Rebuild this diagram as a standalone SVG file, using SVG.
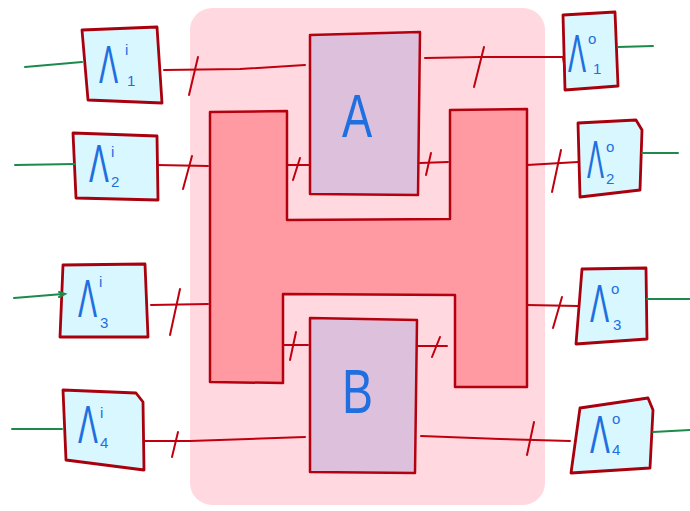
<svg xmlns="http://www.w3.org/2000/svg" width="690" height="511" viewBox="0 0 690 511">
<style>
.bg{fill:#ffd9df;stroke:none}
.h{fill:#ff9aa3;stroke:#b5000f;stroke-width:2.5;stroke-linejoin:round}
.blk{fill:#ddc1dc;stroke:#b5000f;stroke-width:2.5;stroke-linejoin:round}
.lam{fill:#d8f7ff;stroke:#a8000c;stroke-width:2.8;stroke-linejoin:round}
.r{fill:none;stroke:#c0000f;stroke-width:2;stroke-linecap:round}
.g{fill:none;stroke:#1d8a4c;stroke-width:2;stroke-linecap:round}
.t{fill:#1f6fe0;font-family:"Liberation Sans","DejaVu Sans",sans-serif}
.big{font-size:54px}
.sm{font-size:15px}
.lbl{font-size:62px}
</style>
<rect class="bg" x="190" y="8" width="355" height="497" rx="22"/>
<g id="H">
<path class="h" d="M210,112 L287,111 L287,220 L450,219 L450,110 L527,109 L527,387 L455,387 L455,295 L283,294 L283,383 L210,382 Z"/>
</g>
<g id="A">
<path class="blk" d="M310,35 L420,32 L418,195 L310,194 Z"/>
<text class="t lbl" transform="translate(342,137) scale(0.73,1)">A</text>
</g>
<g id="B">
<path class="blk" d="M310,318 L417,320 L415,473 L310,472 Z"/>
<text class="t lbl" transform="translate(342,413) scale(0.75,1)">B</text>
</g>
<g id="Li1">
<path class="lam" d="M82,30 L157,27 L162,103 L88,100 Z"/>
<text class="t big" transform="translate(99,83) scale(0.53,1)">Λ</text>
<text class="t sm" x="125" y="55">i</text>
<text class="t sm" x="127" y="86">1</text>
</g>
<g id="Li2">
<path class="lam" d="M73,133 L157,136 L158,200 L76,198 Z"/>
<text class="t big" transform="translate(89,182) scale(0.55,1)">Λ</text>
<text class="t sm" x="111" y="157">i</text>
<text class="t sm" x="111" y="187">2</text>
</g>
<g id="Li3">
<path class="lam" d="M63,265 L145,264 L148,337 L60,337 Z"/>
<text class="t big" transform="translate(78,317) scale(0.53,1)">Λ</text>
<text class="t sm" x="99" y="287">i</text>
<text class="t sm" x="100" y="328">3</text>
</g>
<g id="Li4">
<path class="lam" d="M63,390 L136,393 L143,402 L144,470 L66,460 Z"/>
<text class="t big" transform="translate(78,443) scale(0.55,1)">Λ</text>
<text class="t sm" x="100" y="418">i</text>
<text class="t sm" x="100" y="448">4</text>
</g>
<g id="Lo1">
<path class="lam" d="M563,15 L615,12 L618,86 L565,90 Z"/>
<text class="t big" transform="translate(568,72) scale(0.5,1)">Λ</text>
<text class="t sm" x="588" y="44">o</text>
<text class="t sm" x="593" y="74">1</text>
</g>
<g id="Lo2">
<path class="lam" d="M578,123 L636,120 L642,130 L640,190 L580,197 Z"/>
<text class="t big" transform="translate(587,178) scale(0.47,1)">Λ</text>
<text class="t sm" x="606" y="152">o</text>
<text class="t sm" x="606" y="184">2</text>
</g>
<g id="Lo3">
<path class="lam" d="M582,269 L646,268 L647,339 L576,344 Z"/>
<text class="t big" transform="translate(590,322) scale(0.53,1)">Λ</text>
<text class="t sm" x="611" y="294">o</text>
<text class="t sm" x="613" y="330">3</text>
</g>
<g id="Lo4">
<path class="lam" d="M580,408 L648,398 L653,410 L650,468 L571,473 Z"/>
<text class="t big" transform="translate(590,453) scale(0.55,1)">Λ</text>
<text class="t sm" x="612" y="424">o</text>
<text class="t sm" x="612" y="455">4</text>
</g>
<g id="connectors">
<path class="g" d="M25,67 L82,62"/>
<path class="g" d="M15,165 L75,164"/>
<path class="g" d="M14,298 L63,294"/>
<path class="g" d="M59,292 L65,294 L59,297"/>
<path class="g" d="M12,429 L62,429"/>
<path class="g" d="M618,47 L653,46"/>
<path class="g" d="M642,153 L678,153"/>
<path class="g" d="M647,299 L690,299"/>
<path class="g" d="M653,432 L690,430"/>
<path class="r" d="M164,70 L240,69 L305,65"/>
<path class="r" d="M198,57 L189,95"/>
<path class="r" d="M157,165 L208,166"/>
<path class="r" d="M192,156 L183,189"/>
<path class="r" d="M151,305 L208,304"/>
<path class="r" d="M180,289 L170,335"/>
<path class="r" d="M144,441 L190,441 L305,437"/>
<path class="r" d="M178,432 L172,457"/>
<path class="r" d="M425,58 L480,57 L563,57 L565,70"/>
<path class="r" d="M484,47 L474,87"/>
<path class="r" d="M527,165 L578,162"/>
<path class="r" d="M561,150 L552,192"/>
<path class="r" d="M527,305 L578,306"/>
<path class="r" d="M562,297 L553,328"/>
<path class="r" d="M421,436 L500,439 L570,441"/>
<path class="r" d="M534,422 L527,455"/>
<path class="r" d="M288,165 L310,165"/>
<path class="r" d="M300,158 L293,180"/>
<path class="r" d="M420,163 L448,162"/>
<path class="r" d="M431,153 L426,175"/>
<path class="r" d="M283,345 L308,345"/>
<path class="r" d="M296,332 L290,360"/>
<path class="r" d="M417,346 L447,346"/>
<path class="r" d="M440,337 L432,357"/>
</g>
</svg>
